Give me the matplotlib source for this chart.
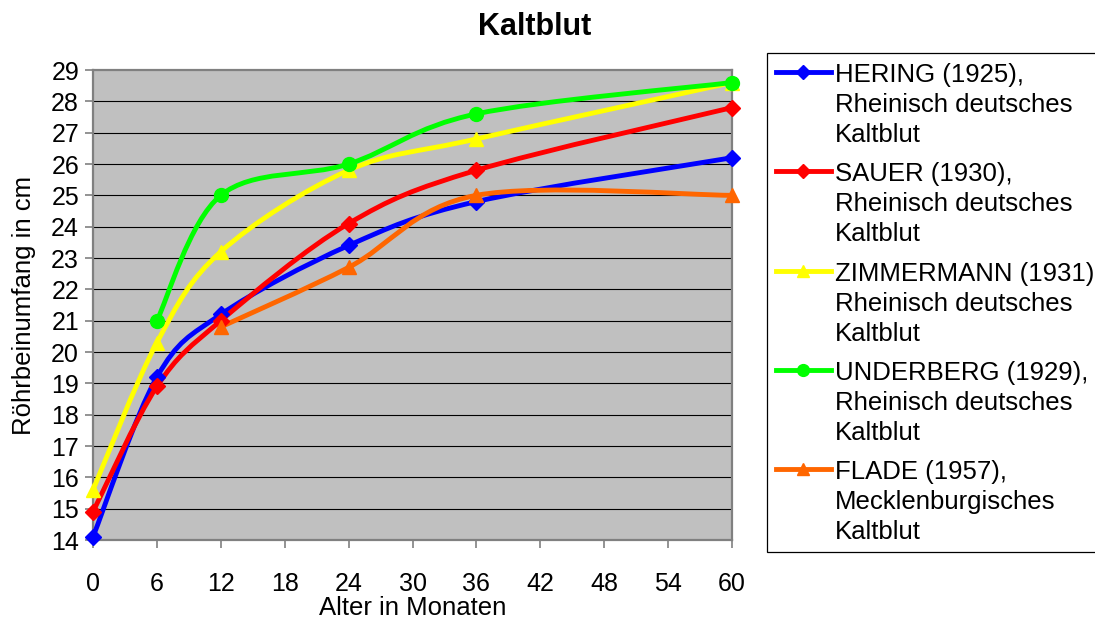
import numpy as np
import matplotlib
matplotlib.use("Agg")
import matplotlib.pyplot as plt
from matplotlib.path import Path
from matplotlib.patches import PathPatch, Rectangle
from matplotlib.lines import Line2D

plt.rcParams['font.family'] = ['Liberation Sans', 'DejaVu Sans']

# Röhrbeinumfang (cm) nach Alter (Monate)
hering_x = [0, 6, 12, 24, 36, 60]
hering_y = [14.1, 19.2, 21.2, 23.4, 24.8, 26.2]
sauer_x = [0, 6, 12, 24, 36, 60]
sauer_y = [14.9, 18.9, 21.0, 24.1, 25.8, 27.8]
zimmermann_x = [0, 6, 12, 24, 36, 60]
zimmermann_y = [15.6, 20.3, 23.2, 25.8, 26.8, 28.6]
underberg_x = [6, 12, 24, 36, 60]
underberg_y = [21.0, 25.0, 26.0, 27.6, 28.6]
flade_x = [12, 24, 36, 60]
flade_y = [20.8, 22.7, 25.0, 25.0]

labels = [
    ["HERING (1925),", "Rheinisch deutsches", "Kaltblut"],
    ["SAUER (1930),", "Rheinisch deutsches", "Kaltblut"],
    ["ZIMMERMANN (1931)", "Rheinisch deutsches", "Kaltblut"],
    ["UNDERBERG (1929),", "Rheinisch deutsches", "Kaltblut"],
    ["FLADE (1957),", "Mecklenburgisches", "Kaltblut"],
]

series = [
    (hering_x, hering_y, '#0000FF', 'D', 8),
    (sauer_x, sauer_y, '#FF0000', 'D', 8),
    (zimmermann_x, zimmermann_y, '#FFFF00', '^', 10),
    (underberg_x, underberg_y, '#00FF00', 'o', 10),
    (flade_x, flade_y, '#FF6600', '^', 10),
]


def smooth_path(xs, ys):
    # Catmull-Rom style smoothing as cubic Bezier segments
    pts = np.column_stack([xs, ys]).astype(float)
    n = len(pts)
    verts = [pts[0]]
    codes = [Path.MOVETO]
    for i in range(n - 1):
        p0 = pts[max(i - 1, 0)]
        p1 = pts[i]
        p2 = pts[i + 1]
        p3 = pts[min(i + 2, n - 1)]
        c1 = p1 + (p2 - p0) / 6.0
        c2 = p2 - (p3 - p1) / 6.0
        verts += [c1, c2, p2]
        codes += [Path.CURVE4] * 3
    return Path(verts, codes)


W, H = 1095, 623
fig = plt.figure(figsize=(W / 100, H / 100), dpi=100)
ax = fig.add_axes([93 / W, 1 - 540 / H, (732 - 93) / W, (540 - 70) / H])
ax.set_facecolor('#C0C0C0')

for y in range(15, 29):
    ax.axhline(y, color='black', lw=0.8, zorder=1)

for xs, ys, c, m, ms in series:
    ax.add_patch(PathPatch(smooth_path(xs, ys), fill=False, edgecolor=c,
                           lw=3.5, capstyle='round', joinstyle='round', zorder=3))
    ax.plot(xs, ys, ls='none', marker=m, ms=ms, color=c, mec=c, zorder=4,
            clip_on=False)

ax.set_xlim(0, 60)
ax.set_ylim(14, 29)
ax.set_xticks(range(0, 61, 6))
ax.set_yticks(range(14, 30))
for s in ax.spines.values():
    s.set_color('#808080')
    s.set_linewidth(1.6)
ax.tick_params(axis='both', direction='out', length=6, width=1.2,
               color='#808080', labelsize=18)
ax.tick_params(axis='x', pad=17)
ax.tick_params(axis='y', pad=4)

ax.set_xlabel('Alter in Monaten', fontsize=18.5, labelpad=0)
ax.set_ylabel('Röhrbeinumfang in cm', fontsize=18.5, labelpad=11)
fig.text(535 / W, 1 - 27 / H, 'Kaltblut', fontsize=22, fontweight='bold',
         ha='center', va='center')

# legend box on the right
fig.patches.append(Rectangle((767 / W, 1 - 552 / H), (1100 - 767) / W,
                             (552 - 53) / H, transform=fig.transFigure,
                             facecolor='white', edgecolor='black', lw=0.9))
for i, (xs, ys, c, m, ms) in enumerate(series):
    yl = 72 + 99.3 * i
    fig.lines.append(Line2D([776 / W, 831 / W], [1 - yl / H, 1 - yl / H],
                            transform=fig.transFigure, color=c, lw=3.5))
    fig.lines.append(Line2D([803 / W], [1 - yl / H], transform=fig.transFigure,
                            ls='none', marker=m, ms=ms * 0.85, color=c))
    for j, line in enumerate(labels[i]):
        fig.text(835 / W, 1 - (82 + 99.3 * i + 30 * j) / H, line,
                 fontsize=18.5, ha='left', va='baseline')

fig.savefig('out.png', dpi=100)
